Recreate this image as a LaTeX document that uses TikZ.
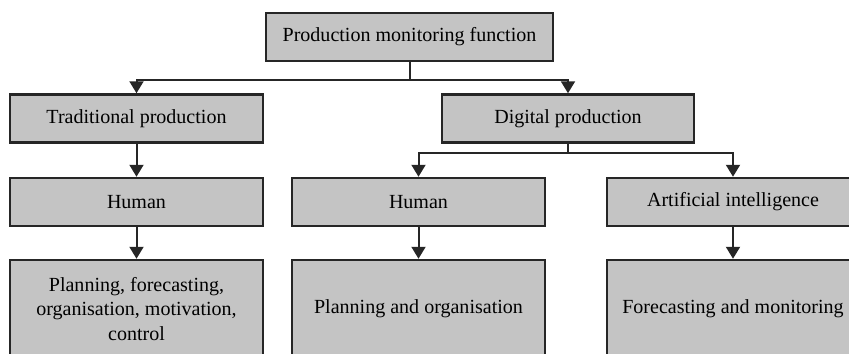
\documentclass[tikz,border=0pt]{standalone}
\usepackage{fontspec}
\setmainfont{Liberation Serif}
\usetikzlibrary{arrows.meta}

\definecolor{boxgray}{RGB}{196,196,196}

\tikzset{
	box/.style={draw=black!85, fill=boxgray, line width=0.05cm,
		minimum height=0.96cm, inner sep=2pt, align=center,
		font=\fontsize{11.4}{14}\selectfont},
	bigbox/.style={box, minimum height=1.96cm},
	arr/.style={line width=0.04cm, draw=black!85,
		-{Triangle[width=0.28cm, length=0.24cm]}}
}

\begin{document}
\begin{tikzpicture}[x=0.02cm, y=-0.02cm]

	\useasboundingbox (0,0) rectangle (849,354);
	\clip (0,0) rectangle (849,354);

	\node[box, minimum width=5.74cm] (top) at (409.5,37) {Production monitoring function};

	\node[box, minimum width=5.06cm] (trad) at (136.5,118.5) {Traditional production};
	\node[box, minimum width=5.04cm] (dig) at (568,118.5) {Digital production};

	\node[box, minimum width=5.06cm] (hum1) at (136.5,202) {Human};
	\node[box, minimum width=5.06cm] (hum2) at (418.5,202) {Human};
	\node[box, minimum width=5.04cm] (ai) at (733,202) {Artificial intelligence};

	\node[bigbox, minimum width=5.06cm] (plan1) at (136.5,309) {Planning, forecasting,\\organisation, motivation,\\control};
	\node[bigbox, minimum width=5.06cm] (plan2) at (418.5,309) {Planning and organisation};
	\node[bigbox, minimum width=5.04cm] (plan3) at (733,309) {Forecasting and monitoring};

	% branching points
	\coordinate (j1) at (409.5,80);
	\coordinate (j2) at (568,153);

	\draw[line width=0.04cm, draw=black!85] (top.south) -- (j1);
	\draw[arr] (j1) -| (trad.north);
	\draw[arr] (j1) -| (dig.north);

	\draw[line width=0.04cm, draw=black!85] (dig.south) -- (j2);
	\draw[arr] (j2) -| (hum2.north);
	\draw[arr] (j2) -| (ai.north);

	\foreach \i / \j in {
	trad/hum1,
	hum1/plan1,
	hum2/plan2,
	ai/plan3}
	{
		\path (\i) edge[arr] (\j);
	};
	\end{tikzpicture}
\end{document}
